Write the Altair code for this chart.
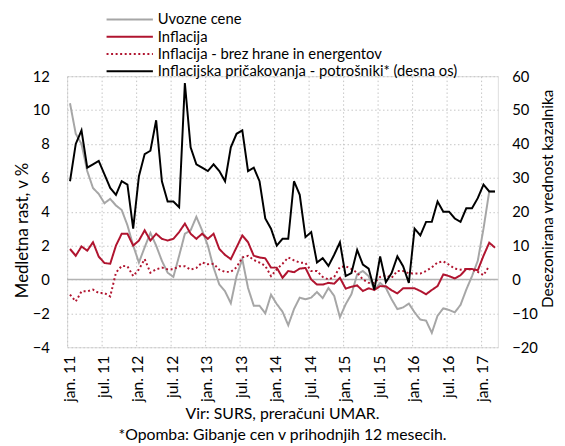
import altair as alt
import pandas as pd

# ---- data (Jan 2011 .. Mar 2017, monthly) ----
tick_labels = ["jan. 11", "jul. 11", "jan. 12", "jul. 12", "jan. 13", "jul. 13",
               "jan. 14", "jul. 14", "jan. 15", "jul. 15", "jan. 16", "jul. 16", "jan. 17"]

uvozne_cene = [10.4, 8.6, 8.0, 6.4, 5.4, 5.05, 4.5, 4.76, 4.37, 4.1, 3.2, 2.0, 1.0, 1.9, 2.75,
               2.0, 1.1, 0.4, 0.15, 1.4, 2.7, 2.9, 3.7, 2.9, 2.0, 0.7, -0.3, -0.7, -1.4, 0.2,
               1.2, -0.5, -1.55, -1.55, -2.0, -0.9, -1.45, -1.9, -2.7, -1.75, -1.07, -1.17, -1.07,
               -0.74, -1.1, -0.5, -0.97, -2.23, -1.46, -0.87, 0.3, 0.5, 0.2, -0.6, -0.2, -0.5,
               -1.17, -1.75, -1.65, -1.42, -1.94, -2.37, -2.43, -3.15, -2.14, -1.7, -1.8, -1.94,
               -1.5, -0.6, 0.2, 1.1, 3.0, 5.2, 5.2]

inflacija = [1.8, 1.4, 1.95, 1.7, 2.2, 1.35, 0.97, 0.93, 2.0, 2.7, 2.7, 2.0, 2.3, 2.9, 2.3,
             2.7, 2.4, 2.3, 2.4, 2.8, 3.3, 2.7, 2.4, 2.7, 2.4, 2.7, 1.8, 1.45, 1.2, 1.9,
             2.6, 2.2, 1.4, 1.3, 1.25, 0.7, 0.7, 0.1, 0.5, 0.43, 0.64, 0.68, 0.0, -0.3, -0.3,
             -0.2, -0.25, 0.1, -0.54, -0.43, -0.35, -0.68, -0.52, -0.62, -0.39, -0.4, -0.64,
             -0.82, -0.52, -0.52, -0.52, -0.68, -0.87, -0.62, -0.39, 0.3, 0.2, 0.06, 0.25,
             0.62, 0.62, 0.54, 1.4, 2.17, 1.88]

brez_hrane = [-0.9, -1.3, -0.7, -0.7, -0.6, -0.8, -0.8, -1.0, 0.4, 0.8, 0.78, 0.2, 0.6, 1.2, 0.4,
              0.6, 0.7, 0.6, 0.6, 0.78, 0.78, 0.58, 0.68, 1.0, 0.9, 0.93, 0.58, 0.45, 0.45, 0.72,
              1.3, 1.4, 1.15, 1.0, 0.8, 0.2, 0.6, 0.93, 1.3, 1.13, 1.0, 0.97, 0.5, 0.5, 0.15,
              0.0, 0.15, 0.74, 0.78, 0.62, 0.4, 0.0, -0.2, -0.2, 0.15, 0.25, 0.1, 0.5, 0.5,
              0.37, 0.35, 0.35, 0.5, 0.72, 1.0, 1.07, 0.87, 0.64, 0.58, 0.62, 0.58, 0.45, 0.25,
              0.8]

pricakovanja = [29, 40, 44, 33, 34, 35, 31, 27, 25, 29, 28, 15, 30.5, 37, 38, 47, 29, 23, 23,
                21.3, 58, 39, 34, 33, 32, 34, 32, 29, 39, 43, 44, 32, 33, 29, 18, 15, 10, 12,
                12, 29, 25, 12.5, 14, 5, 6.3, 4, 7.3, 11, 1, 1.9, 8.7, 4.4, 3.2, -3, 6.8, -0.8,
                1.9, 6.8, 3.9, -1, 15, 13, 17, 17, 23, 20, 20, 18, 17, 21, 21, 24, 28, 26, 26]

series_names = ["Uvozne cene", "Inflacija", "Inflacija - brez hrane in energentov",
                "Inflacijska pričakovanja - potrošniki* (desna os)"]
series_colors = ["#a6a6a6", "#b0142f", "#b0142f", "#000000"]
series_dash = [[1, 0], [1, 0], [2, 2.6], [1, 0]]

N_MONTHS = 75
FONT = "Lato"

left_rows = []
for name, vals in zip(series_names[:3], [uvozne_cene, inflacija, brez_hrane]):
    for i, v in enumerate(vals):
        left_rows.append({"m": i + 0.5, "v": v, "s": name})
left_df = pd.DataFrame(left_rows)
right_df = pd.DataFrame({"m": [i + 0.5 for i in range(len(pricakovanja))],
                         "v": pricakovanja, "s": series_names[3]})
zero_df = pd.DataFrame({"v": [0]})

label_js = "[" + ",".join("'%s'" % t for t in tick_labels) + "]"

x_enc = alt.X("m:Q", scale=alt.Scale(domain=[0, N_MONTHS], nice=False, zero=False),
              axis=alt.Axis(values=list(range(0, 73, 6)),
                            labelExpr=label_js + "[round(datum.value/6)]",
                            labelAngle=270, labelAlign="right", labelBaseline="middle",
                            labelPadding=8, labelOffset=2, labelFontSize=16, labelFont=FONT,
                            labelColor="#000", ticks=False, domain=False, grid=True,
                            gridColor="#c4c4c4", gridDash=[1.5, 2.5], gridWidth=1,
                            title=None))

left_axis = alt.Axis(values=list(range(-4, 13, 2)), labelFontSize=15, labelFont=FONT,
                     labelColor="#000", labelPadding=18, ticks=False, domain=False,
                     grid=True, gridColor="#c4c4c4", gridDash=[1.5, 2.5], gridWidth=1,
                     title="Medletna rast, v %", titleFont=FONT, titleFontSize=17,
                     titleFontWeight="normal", titleColor="#000", titleAngle=270,
                     titleAlign="center", titleBaseline="middle", titleX=-45, titleY=156)
left_scale = alt.Scale(domain=[-4, 12], nice=False, zero=False)

right_axis = alt.Axis(values=list(range(-20, 61, 10)), labelFontSize=15, labelFont=FONT,
                      labelColor="#000", labelPadding=14, ticks=False, domain=False,
                      grid=False, orient="right",
                      title="Desezonirana vrednost kazalnika", titleFont=FONT,
                      titleFontSize=15.5, titleFontWeight="normal", titleColor="#000",
                      titleAngle=270, titleAlign="center", titleBaseline="middle",
                      titleX=50, titleY=124)
right_scale = alt.Scale(domain=[-20, 60], nice=False, zero=False)

color_enc = alt.Color("s:N", scale=alt.Scale(domain=series_names, range=series_colors),
                      legend=None)
dash_enc = alt.StrokeDash("s:N", scale=alt.Scale(domain=series_names, range=series_dash),
                          legend=None)

zero_rule = alt.Chart(zero_df).mark_rule(color="#b3b3b3", strokeWidth=1.5).encode(
    y=alt.Y("v:Q", scale=left_scale, axis=left_axis))

left_lines = alt.Chart(left_df).mark_line(strokeWidth=2, strokeCap="butt").encode(
    x=x_enc,
    y=alt.Y("v:Q", scale=left_scale, axis=left_axis),
    color=color_enc, strokeDash=dash_enc, detail="s:N")

right_line = alt.Chart(right_df).mark_line(strokeWidth=2, color="#000").encode(
    x=x_enc,
    y=alt.Y("v:Q", scale=right_scale, axis=right_axis))

left_group = alt.layer(zero_rule, left_lines)

# manual legend (above plot)
legend_layers = []
row_y = [-57.5, -40, -22.5, -5]
for name, col, dash, yy in zip(series_names, series_colors, series_dash, row_y):
    legend_layers.append(
        alt.Chart(pd.DataFrame({"s": [name]})).mark_rule(
            color=col, strokeWidth=2.2 if dash[1] else 2, strokeDash=dash, strokeCap="butt"
        ).encode(x=alt.value(40), x2=alt.value(87), y=alt.value(yy)))
    legend_layers.append(
        alt.Chart(pd.DataFrame({"s": [name]})).mark_text(
            align="left", baseline="middle", fontSize=15, font=FONT, color="#000"
        ).encode(x=alt.value(92), y=alt.value(yy), text="s:N"))

chart = alt.layer(left_group, right_line, *legend_layers).resolve_scale(
    y="independent"
).properties(
    width=437, height=275,
    padding={"left": 60, "top": 66, "right": 60, "bottom": 97},
    autosize=alt.AutoSizeParams(type="none"),
    title=alt.TitleParams(
        text=["Vir: SURS, preračuni UMAR.", "*Opomba: Gibanje cen v prihodnjih 12 mesecih."],
        orient="bottom", anchor="middle", fontSize=16, font=FONT, fontWeight="normal",
        color="#000", lineHeight=21, offset=5)
).configure_view(stroke="#c8c8c8", strokeWidth=1.5).configure(background="white")

chart.save("out.html", embed_options={"renderer": "svg", "actions": False})
